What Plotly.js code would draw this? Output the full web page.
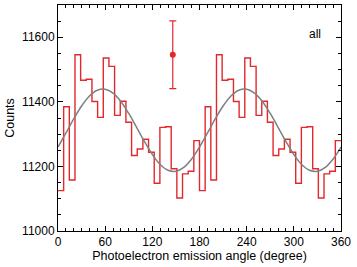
<!DOCTYPE html>
<html>
<head>
<meta charset="utf-8">
<script src="https://cdn.plot.ly/plotly-3.0.1.min.js"></script>
<style>html,body{margin:0;padding:0;background:#fff}#chart{width:357px;height:267px}</style>
</head>
<body>
<div id="chart"></div>
<script>
// Bin left edges (degrees), 7.2 degree bins
var binEdges = [0,7.2,14.4,21.6,28.8,36,43.2,50.4,57.6,64.8,72,79.2,86.4,93.6,100.8,108,115.2,122.4,129.6,136.8,144,151.2,158.4,165.6,172.8,
                180,187.2,194.4,201.6,208.8,216,223.2,230.4,237.6,244.8,252,259.2,266.4,273.6,280.8,288,295.2,302.4,309.6,316.8,324,331.2,338.4,345.6,352.8,360];
var counts = [11125,11385,11158,11546,11467,11470,11401,11352,11536,11510,11358,11402,11337,11234,11254,11284,11244,11148,11321,11323,11193,11102,11177,11185,11280,
              11125,11385,11158,11546,11467,11470,11401,11352,11536,11510,11358,11402,11337,11234,11254,11284,11244,11148,11321,11323,11193,11102,11177,11185,11280];
// Fitted curve
var fitAngle = [0,10,20,30,40,50,60,70,80,90,100,110,120,130,140,150,160,170,180,
                190,200,210,220,230,240,250,260,270,280,290,300,310,320,330,340,350,360];
var fitCounts = [11260,11303,11347,11387,11418,11436,11439,11427,11401,11364,11321,11277,11237,11206,11188,11185,11197,11223,11260,
                 11303,11347,11387,11418,11436,11439,11427,11401,11364,11321,11277,11237,11206,11188,11185,11197,11223,11260];
// Single reference point with error bar
var refAngle = [146];
var refCount = [11546];
var refErr = [105];
var xTicks = [0,60,120,180,240,300,360];
var xTickText = ["0","60","120","180","240","300","360"];
var yTicks = [11000,11200,11400,11600];
var yTickText = ["11000","11200","11400","11600"];
var label = "all";

var stepY = counts.concat([counts[counts.length-1]]);
var red = "rgb(226,40,45)";
var tickFont = {family:"Liberation Sans, Arial, sans-serif", size:12, color:"#000"};
var titleFont = {family:"Liberation Sans, Arial, sans-serif", size:12.5, color:"#000"};

var traces = [
  {x: binEdges, y: stepY, type:"scatter", mode:"lines", line:{shape:"hv", color:red, width:1.4}, hoverinfo:"skip"},
  {x: fitAngle, y: fitCounts, type:"scatter", mode:"lines", line:{shape:"spline", color:"rgb(128,128,128)", width:1.5}, hoverinfo:"skip"},
  {x: refAngle, y: refCount, type:"scatter", mode:"markers", marker:{color:red, size:6},
   error_y:{type:"data", array:refErr, visible:true, color:red, thickness:1.2, width:3.5}}
];

var axisCommon = {showline:true, mirror:"ticks", linecolor:"#000", linewidth:1, ticks:"inside",
  ticklen:5, tickwidth:1, tickcolor:"#000", showgrid:false, zeroline:false, tickfont:tickFont};

var layout = {
  width:357, height:267,
  margin:{l:58, r:16, t:5, b:36},
  paper_bgcolor:"#fff", plot_bgcolor:"#fff",
  showlegend:false,
  font: tickFont,
  xaxis: Object.assign({}, axisCommon, {range:[0,360], tickmode:"array", tickvals:xTicks, ticktext:xTickText,
    minor:{dtick:10, ticks:"inside", ticklen:3, tickcolor:"#000", showgrid:false},
    title:{text:"Photoelectron emission angle (degree)", font:titleFont, standoff:1}}),
  yaxis: Object.assign({}, axisCommon, {range:[11000,11700], tickmode:"array", tickvals:yTicks, ticktext:yTickText,
    minor:{dtick:50, tick0:11000, ticks:"inside", ticklen:3, tickcolor:"#000", showgrid:false},
    title:{text:"Counts", font:titleFont, standoff:4}}),
  annotations:[{text:label, xref:"paper", yref:"paper", x:0.937, y:0.911, showarrow:false, font:tickFont}]
};

Plotly.newPlot("chart", traces, layout, {staticPlot:true, displayModeBar:false});
</script>
</body>
</html>
